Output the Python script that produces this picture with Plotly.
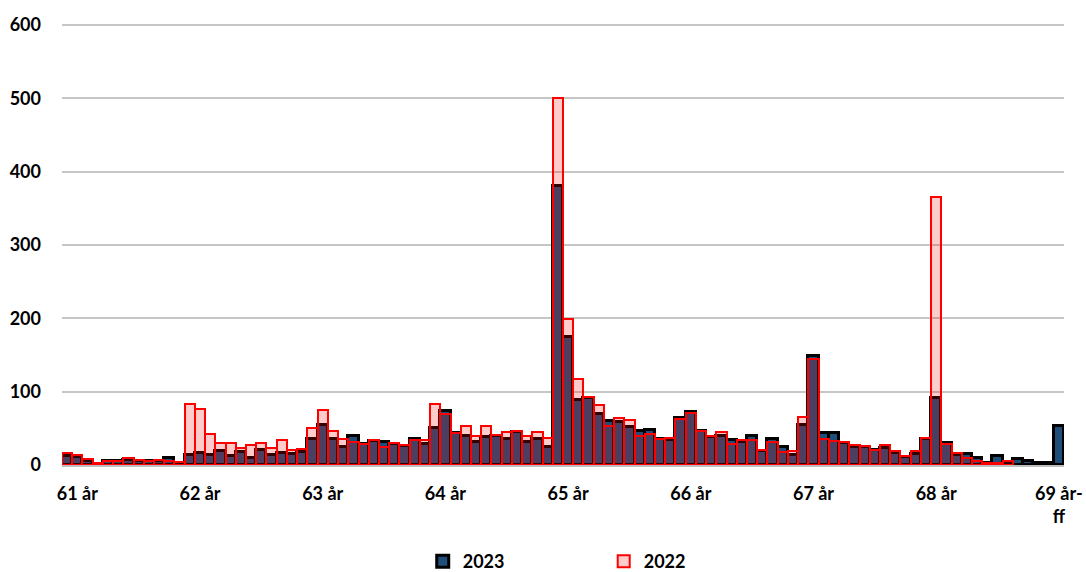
import plotly.graph_objects as go

# Categories: age in months, from 60 år 11 mån up to 69 år-ff (98 categories)
categories = ["60 år 11 mån"] + [f"{a} år {m} mån" for a in range(61, 69) for m in range(12)] + ["69 år-ff"]

tick_positions = [1, 13, 25, 37, 49, 61, 73, 85, 97]
tick_labels = ["61 år", "62 år", "63 år", "64 år", "65 år", "66 år", "67 år", "68 år", "69 år-<br>ff"]

values_2023 = [12, 11, 5, 2, 5, 5, 7, 6, 5, 6, 9, 3,
               13, 17, 14, 19, 12, 18, 10, 21, 14, 17, 15, 18,
               35, 54, 35, 25, 40, 29, 33, 32, 29, 26, 35, 28,
               51, 74, 43, 39, 32, 38, 40, 36, 45, 32, 35, 24,
               380, 175, 88, 91, 70, 60, 58, 52, 46, 48, 36, 34,
               64, 72, 47, 38, 40, 34, 32, 40, 19, 36, 25, 14,
               54, 148, 43, 43, 30, 25, 24, 20, 23, 16, 11, 15,
               35, 91, 30, 14, 15, 10, 3, 12, 4, 8, 6, 3,
               3, 53]

values_2022 = [17, 13, 8, 3, 6, 6, 9, 7, 6, 7, 6, 4,
               83, 77, 42, 30, 30, 23, 27, 30, 23, 34, 20, 22,
               50, 75, 46, 35, 31, 28, 34, 24, 30, 27, 34, 34,
               83, 70, 44, 53, 40, 53, 41, 45, 46, 39, 45, 37,
               500, 199, 117, 93, 82, 53, 64, 61, 39, 42, 35, 37,
               63, 71, 46, 40, 45, 28, 34, 34, 20, 32, 18, 19,
               65, 144, 35, 33, 32, 27, 26, 20, 27, 19, 12, 19,
               37, 365, 28, 16, 10, 5, 3, 3, 5, None, None, None,
               None, None]

FONT = "Lato"
bold = dict(family=FONT, size=18, color="#000000", weight="bold")

fig = go.Figure()
fig.add_trace(go.Bar(
    x=categories, y=values_2023, name="2023",
    marker=dict(color="#1F4E79", line=dict(color="#000000", width=3)),
))
fig.add_trace(go.Bar(
    x=categories, y=values_2022, name="2022",
    marker=dict(color="rgba(255,0,0,0.2)", line=dict(color="#FF0000", width=2)),
))

fig.update_layout(
    width=1086, height=572,
    margin=dict(l=62, r=22, t=22, b=107, autoexpand=False),
    barmode="overlay", bargap=0,
    plot_bgcolor="white", paper_bgcolor="white",
    font=bold,
    showlegend=True,
    legend=dict(orientation="h", x=0.36, xanchor="left", y=-0.218, yanchor="middle",
                entrywidth=136, font=bold, traceorder="normal"),
)
fig.update_xaxes(
    type="category", categoryorder="array", categoryarray=categories,
    tickmode="array", tickvals=[categories[i] for i in tick_positions], ticktext=tick_labels,
    tickangle=0, showgrid=False, ticks="", ticklabelstandoff=11,
    tickfont=bold, automargin=False,
    showline=True, linecolor="#BFBFBF", linewidth=2,
)
fig.update_yaxes(
    range=[0, 604], dtick=100, tick0=0,
    showgrid=True, gridcolor="#C6C6C6", gridwidth=2,
    zeroline=True, zerolinecolor="#BFBFBF", zerolinewidth=2,
    ticks="", ticklabelstandoff=20, automargin=False,
    tickfont=bold,
)

fig.write_html("out.html", config={"displayModeBar": False},
               post_script="document.body.style.margin='0';document.body.style.overflow='hidden';")
